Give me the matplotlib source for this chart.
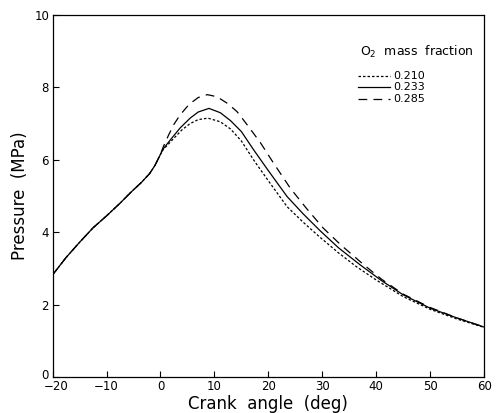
import matplotlib
matplotlib.use("Agg")
import matplotlib.pyplot as plt
import matplotlib.transforms as mtransforms

# Common compression / early-combustion part (all three curves coincide)
common_deg = [-20, -17.5, -15, -12.5, -10, -7.5, -5.5, -3.5, -2, -1, 0]
common_p = [2.82, 3.30, 3.72, 4.12, 4.45, 4.80, 5.10, 5.38, 5.62, 5.85, 6.15]

# O2 mass fraction 0.210 (short dashes)
deg_210 = [0.5, 2.4, 4, 5.5, 7, 8.8, 11.1, 13, 15, 17.3, 20, 23.5, 26.5, 29.5, 33, 36.4, 40, 45, 50, 55, 60]
p_210 = [6.28, 6.58, 6.83, 7.00, 7.11, 7.15, 7.05, 6.85, 6.52, 5.99, 5.42, 4.70, 4.27, 3.87, 3.43, 3.04, 2.68, 2.22, 1.87, 1.60, 1.37]

# O2 mass fraction 0.233 (solid)
deg_233 = [0.5, 2, 3.65, 5.5, 7, 9, 11.1, 13, 15, 17.3, 20, 23.5, 26.5, 29.6, 33, 37, 41, 45, 50, 55, 60]
p_233 = [6.30, 6.58, 6.88, 7.15, 7.32, 7.42, 7.30, 7.08, 6.78, 6.27, 5.70, 4.98, 4.50, 4.04, 3.57, 3.10, 2.66, 2.27, 1.90, 1.63, 1.38]

# O2 mass fraction 0.285 (long dashes)
deg_285 = [0.5, 1.5, 2.5, 3.65, 5.3, 7, 8.7, 10.5, 12.5, 14.2, 16, 18.5, 21, 24.1, 27, 30.2, 33.5, 37.7, 41, 45, 50, 55, 60]
p_285 = [6.35, 6.68, 6.98, 7.24, 7.53, 7.72, 7.80, 7.74, 7.55, 7.33, 6.98, 6.48, 5.90, 5.21, 4.67, 4.11, 3.64, 3.10, 2.70, 2.29, 1.92, 1.63, 1.38]

labels = ["0.210", "0.233", "0.285"]
x_ticks = [-20, -10, 0, 10, 20, 30, 40, 50, 60]
y_ticks = [0, 2, 4, 6, 8, 10]

fig = plt.figure(figsize=(4.96, 4.13), dpi=100)
ax = fig.add_axes([0.106, 0.0872, 0.870, 0.8765])

styles = [dict(linestyle=(0, (2.0, 1.6)), lw=0.9),
          dict(linestyle="-", lw=0.9),
          dict(linestyle=(0, (7, 5)), lw=0.9)]
series = [(deg_210, p_210), (deg_233, p_233), (deg_285, p_285)]

for (d, p), st in zip(series, styles):
    ax.plot(list(common_deg) + list(d), list(common_p) + list(p), color="black", **st)

ax.set_xlim(-20, 60)
ax.set_ylim(0, 10)
ax.set_xticks(x_ticks)
ax.set_yticks(y_ticks)
ax.tick_params(direction="in", length=4, width=0.8, labelsize=8.5, pad=2.5)
for s in ax.spines.values():
    s.set_linewidth(0.9)

# nudge the y "0" label up and the x "-20" label right a little to limit overlap
ylab0 = ax.get_yticklabels()[0]
ylab0.set_transform(ylab0.get_transform() + mtransforms.ScaledTranslation(0, 3 / 100, fig.dpi_scale_trans))
xlab0 = ax.get_xticklabels()[0]
xlab0.set_transform(xlab0.get_transform() + mtransforms.ScaledTranslation(4 / 100, 0, fig.dpi_scale_trans))

ax.set_xlabel("Crank  angle  (deg)", fontsize=12, labelpad=1)
ax.set_ylabel("Pressure  (MPa)", fontsize=12, labelpad=4)

# Legend (drawn in axes coordinates)
ax.text(0.713, 0.898, "O$_2$  mass  fraction", transform=ax.transAxes,
        fontsize=9, ha="left", va="center")
rows_y = [0.832, 0.800, 0.768]
for lbl, st, yy in zip(labels, styles, rows_y):
    ax.plot([0.708, 0.783], [yy, yy], transform=ax.transAxes, color="black", **st)
    ax.text(0.790, yy, lbl, transform=ax.transAxes, fontsize=8, ha="left", va="center")

fig.savefig("out.png", dpi=100)
